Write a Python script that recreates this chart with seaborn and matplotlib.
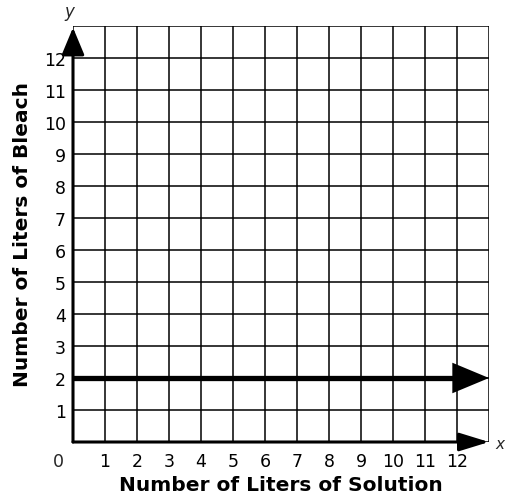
import matplotlib
matplotlib.use("Agg")
import matplotlib.pyplot as plt
import seaborn as sns
import numpy as np
import pandas as pd

# data
x_ticks = list(range(1, 13))
y_ticks = list(range(1, 13))
line_x = [0, 13]
line_y = [2, 2]
x_max = 13
y_max = 13


def main():
    sns.set_theme(style="white")
    plt.rcParams['font.family'] = ['DejaVu Sans']

    fig = plt.figure(figsize=(5.06, 5.02), dpi=100)
    ax = fig.add_axes([73 / 506, 59 / 502, 416 / 506, 416 / 502])

    df = pd.DataFrame({"x": line_x, "y": line_y})

    # grid
    ax.set_xlim(0, x_max)
    ax.set_ylim(0, y_max)
    ax.set_xticks(range(0, x_max + 1))
    ax.set_yticks(range(0, y_max + 1))
    ax.set_xticklabels([""] + [str(v) for v in x_ticks] + [""])
    ax.set_yticklabels([""] + [str(v) for v in y_ticks] + [""])
    ax.grid(True, color="black", linewidth=1.1)
    ax.tick_params(axis="both", length=0, labelsize=12.5, colors="black")
    ax.tick_params(axis="x", pad=7)
    ax.tick_params(axis="y", pad=5)
    for s in ax.spines.values():
        s.set_visible(False)

    # horizontal line y = 2 (stops before the head)
    head_len = 36 / 32
    seg = df.copy()
    seg.loc[1, "x"] = line_x[1] - head_len * 0.9
    sns.lineplot(x="x", y="y", data=seg, ax=ax, color="black", linewidth=3.8,
                 legend=False, zorder=4)
    ax.annotate("", xy=(line_x[1], line_y[1]), xytext=(line_x[1] - head_len, line_y[1]),
                arrowprops=dict(arrowstyle="-|>,head_length=1.2,head_width=0.5",
                                mutation_scale=22, color="black", lw=0,
                                shrinkA=0, shrinkB=0),
                annotation_clip=False, zorder=5)

    # axes with arrows
    ax.annotate("", xy=(x_max, 0), xytext=(0, 0),
                arrowprops=dict(arrowstyle="-|>,head_length=1.3,head_width=0.4",
                                mutation_scale=14, color="black", lw=2.2,
                                shrinkA=0, shrinkB=0),
                annotation_clip=False, zorder=6)
    ax.annotate("", xy=(0, y_max - 0.05), xytext=(0, 0),
                arrowprops=dict(arrowstyle="-|>,head_length=1.2,head_width=0.5",
                                mutation_scale=14, color="black", lw=2.2,
                                shrinkA=0, shrinkB=0),
                annotation_clip=False, zorder=6)

    ax.text(-0.47, -0.59, "0", ha="center", va="center", fontsize=12.5, clip_on=False)
    ax.text(13.33, -0.05, "x", ha="center", va="center", fontsize=11,
            style="italic", clip_on=False)
    ax.text(-0.1, 13.47, "y", ha="center", va="center", fontsize=12,
            style="italic", clip_on=False)

    ax.set_xlabel("Number of Liters of Solution", fontsize=14.5, fontweight="bold",
                  color="black", labelpad=4)
    ax.set_ylabel("Number of Liters of Bleach", fontsize=14.5, fontweight="bold",
                  color="black", labelpad=9)

    fig.savefig("out.png", dpi=100)


if __name__ == "__main__":
    main()
